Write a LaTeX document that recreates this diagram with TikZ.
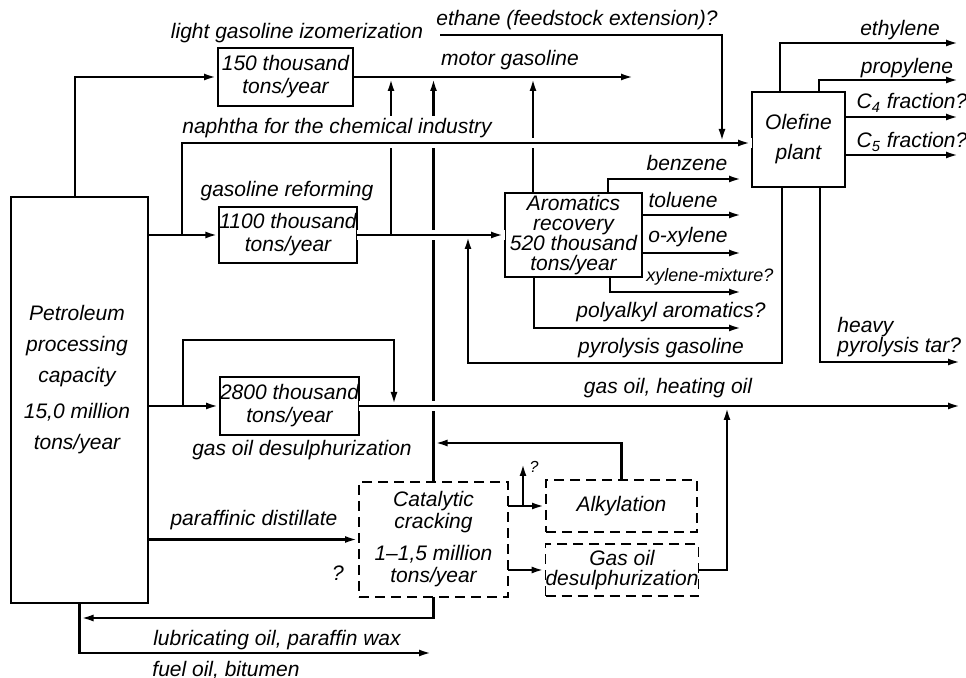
\documentclass[tikz,border=0pt]{standalone}
\usepackage{fontspec}
\setmainfont{Liberation Sans}
\usetikzlibrary{arrows.meta}

\begin{document}
\begin{tikzpicture}[x=0.5pt, y=-0.5pt,
    font=\itshape\fontsize{10.5}{12}\selectfont,
    unit/.style={draw, line width=0.8pt, align=center, inner sep=0pt, outer sep=0pt},
    plan/.style={unit, dash pattern=on 5pt off 3pt},
    stream/.style={line width=1.4pt, -{Latex[length=7pt, width=3.4pt]}},
    gap/.style={preaction={draw=white, line width=5pt, -}},
    tag/.style={inner sep=1pt}]
      \useasboundingbox (0,0) rectangle (966,678);

      \node[unit, minimum width=68.5pt, minimum height=203pt] (petro) at (79.5,400) {};
      \node[unit, minimum width=67.5pt, minimum height=29pt, font=\itshape\fontsize{10.5}{11.5}\selectfont] (iso) at (285.5,77) {150 thousand\\tons/year};
      \node[unit, minimum width=68pt, minimum height=28pt, font=\itshape\fontsize{10.5}{11.5}\selectfont] (reform) at (288,235) {1100 thousand\\tons/year};
      \node[unit, minimum width=67.5pt, minimum height=29pt, font=\itshape\fontsize{10.5}{11.5}\selectfont] (gasdes) at (289.5,406) {2800 thousand\\tons/year};
      \node[unit, minimum width=68.5pt, minimum height=42pt, font=\itshape\fontsize{10.5}{10}\selectfont] (arom) at (573.5,235) {Aromatics\\recovery\\520 thousand\\tons/year};
      \node[unit, minimum width=46.5pt, minimum height=47.5pt, font=\itshape\fontsize{10.5}{15}\selectfont] (olef) at (798.5,139.5) {Olefine\\plant};
      \node[plan, minimum width=74.5pt, minimum height=57.5pt, font=\itshape\fontsize{10.5}{11}\selectfont] (catcr) at (433.5,539.5) {Catalytic\\cracking\\[5pt]1--1,5 million\\tons/year};
      \node[plan, minimum width=75.5pt, minimum height=26pt] (alky) at (621.5,506) {Alkylation};
      \node[plan, minimum width=76pt, minimum height=26pt, font=\itshape\fontsize{10.5}{10}\selectfont] (gdes2) at (622,570) {Gas oil\\desulphurization};

      \coordinate (jn) at (182,235);
      \coordinate (nap) at (182,143);
      \coordinate (eth) at (440,35);
      \coordinate (ethin) at (722,143);
      \coordinate (mgend) at (635,77);
      \coordinate (pyturn) at (468,363);
      \coordinate (fork) at (523,506);
      \coordinate (gojoin) at (727,406);

      \draw[stream] (catcr.north) -- (catcr.north |- iso.east);
      \draw[stream] (533,0 |- arom.north) -- (533,0 |- iso.east);
      \draw[stream, gap] (reform.east) -- (arom.west);
      \draw[stream] (391,0 |- reform.east) -- (391,0 |- iso.east);
      \draw[stream] (782,0 |- olef.south) |- (pyturn) -- (pyturn |- reform.east);
      \draw[stream, gap] (jn) -- (nap) -- (nap -| olef.west);
      \draw[stream] (petro.east |- reform.west) -- (reform.west);
      \draw[stream] (eth) -| (ethin);
      \draw[stream] (75,0 |- petro.north) |- (iso.west);
      \draw[stream] (iso.east) -- (mgend);

      \draw[stream] (780,0 |- olef.north) |- (960,43);
      \draw[stream] (819,0 |- olef.north) |- (960,80);
      \draw[stream] (olef.east |- 0,117) -- (960,117);
      \draw[stream] (olef.east |- 0,155) -- (960,155);
      \draw[stream] (820,0 |- olef.south) |- (962,362);

      \draw[stream] (608,0 |- arom.north) |- (743,179);
      \draw[stream] (arom.east |- 0,215) -- (743,215);
      \draw[stream] (arom.east |- 0,253) -- (743,253);
      \draw[stream] (610,0 |- arom.south) |- (743,292);
      \draw[stream] (534,0 |- arom.south) |- (743,328);

      \draw[stream] (petro.east |- gasdes.west) -- (gasdes.west);
      \draw[stream, gap] (gasdes.east) -- (962,0 |- gasdes.east);
      \draw[stream] (183,0 |- gasdes.west) |- (394,340) -- (394,0 |- gasdes.east);
      \draw[stream] (gdes2.east) -| (gojoin);
      \draw[stream] (alky.north) |- (catcr.north |- 0,443);

      \draw[stream] (petro.east |- catcr.west) -- (catcr.west);
      \draw[stream] (catcr.east |- alky.west) -- (alky.west);
      \draw[stream] (catcr.east |- gdes2.west) -- (gdes2.west);
      \draw[stream] (fork) -- (523,462);
      \draw[stream] (catcr.south) |- (petro.south |- 0,618);
      \draw[stream] (petro.south) |- (433,653);

      \node[font=\itshape\fontsize{10.5}{15.5}\selectfont, align=center] (petrotxt) at (77,380) {Petroleum\\processing\\capacity\\[2.5pt]15,0 million\\tons/year};
      \node[tag] (isolbl) at (297,33) {light gasoline izomerization};
      \node[tag] (mglbl) at (510,60) {motor gasoline};
      \node[tag] (ethlbl) at (577,20) {ethane (feedstock extension)?};
      \node[tag, fill=white] (naplbl) at (337,128) {naphtha for the chemical industry};
      \node[tag] (reflbl) at (287,191) {gasoline reforming};
      \node[tag] (benzlbl) at (687,163) {benzene};
      \node[tag] (tollbl) at (683,200) {toluene};
      \node[tag] (oxylbl) at (688,237) {o-xylene};
      \node[tag, font=\itshape\fontsize{9}{10}\selectfont] (xmixlbl) at (710,277) {xylene-mixture?};
      \node[tag] (polylbl) at (671,312) {polyalkyl aromatics?};
      \node[tag] (pyrolbl) at (661,348) {pyrolysis gasoline};
      \node[tag] (goillbl) at (668,388) {gas oil, heating oil};
      \node[tag] (ethylbl) at (900,30) {ethylene};
      \node[tag] (proplbl) at (907,68) {propylene};
      \node[tag] (cfourlbl) at (912,103) {C\textsubscript{4} fraction?};
      \node[tag] (cfivelbl) at (912,142) {C\textsubscript{5} fraction?};
      \node[tag, anchor=west, align=left, font=\itshape\fontsize{10.5}{10}\selectfont] (tarlbl) at (835,337) {heavy\\pyrolysis tar?};
      \node[tag] (gdlbl) at (302,450) {gas oil desulphurization};
      \node[tag] (parlbl) at (254,520) {paraffinic distillate};
      \node[tag] (lublbl) at (277,640) {lubricating oil, paraffin wax};
      \node[tag] (fuellbl) at (226,670) {fuel oil, bitumen};
      \node[tag] (qcat) at (338,573) {?};
      \node[tag, font=\itshape\fontsize{8}{9}\selectfont] (qfork) at (534,467) {?};
    \end{tikzpicture}
\end{document}
